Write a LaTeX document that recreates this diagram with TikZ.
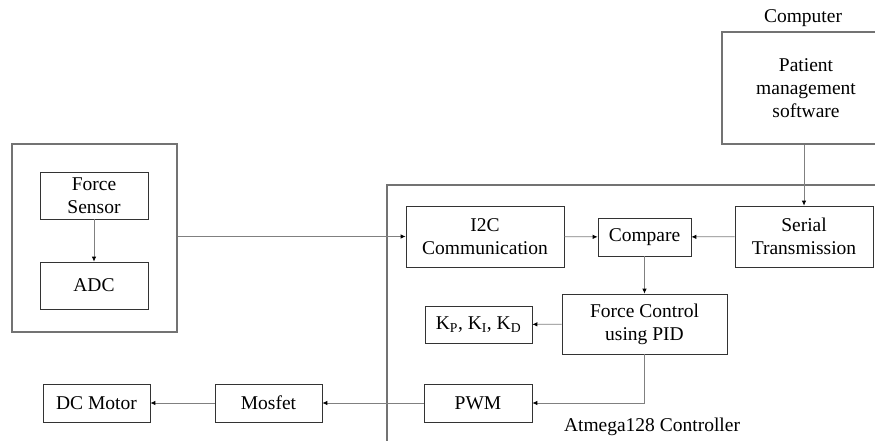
\documentclass[tikz,border=0pt]{standalone}
\usepackage{fontspec}
\setmainfont{Liberation Serif}
\usetikzlibrary{positioning,arrows.meta}

\begin{document}
\begin{tikzpicture}[
     x=1pt, y=-1pt,
     % define styles
     block/.style={
         draw=black!80,
         line width=0.7pt,
         align=center,
         inner sep=0pt,
         font=\fontsize{19.5}{23}\selectfont
     },
     frame/.style={
         draw=black!55,
         line width=1.4pt
     },
     link/.style={
         ->,
         draw=black!50,
         line width=0.8pt
     },
     caption/.style={
         font=\fontsize{19.5}{23}\selectfont
     },
     >={Latex[black,length=5pt,width=4.5pt]}
]
\useasboundingbox (0,0) rectangle (875,441);
\clip (0,0) rectangle (875,441);

% sensor unit
\node[frame, minimum width=165pt, minimum height=188pt] (sensorunit) at (94.5,238) {};
\node[block, minimum width=108pt, minimum height=47pt] (fsensor) at (94,195.5) {Force\\Sensor};
\node[block, minimum width=108pt, minimum height=47pt] (adc) at (94,285.5) {ADC};

% computer
\node[frame, minimum width=168pt, minimum height=112pt, align=center,
      font=\fontsize{19.5}{23}\selectfont] (computer) at (806,88) {Patient\\management\\software};
\node[caption] (computerlabel) at (803,18) {Computer};

% controller
\node[frame, minimum width=520pt, minimum height=290pt] (controller) at (647,330) {};
\node[caption] (controllerlabel) at (652,427) {Atmega128 Controller};

\node[block, minimum width=158pt, minimum height=61pt] (i2c) at (485,236.5) {I2C\\Communication};
\node[block, minimum width=93pt, minimum height=38pt] (compare) at (644.5,237) {Compare};
\node[block, minimum width=138pt, minimum height=61pt] (serial) at (804,236.5) {Serial\\Transmission};
\node[block, minimum width=165pt, minimum height=60pt] (pid) at (644.5,324) {Force Control\\using PID};
\node[block, minimum width=107pt, minimum height=37pt] (gains) at (478.5,324.5)
     {K\textsubscript{P}, K\textsubscript{I}, K\textsubscript{D}};
\node[block, minimum width=108pt, minimum height=38pt] (pwm) at (478,403) {PWM};

% driver
\node[block, minimum width=107pt, minimum height=38pt] (mosfet) at (268.5,403) {Mosfet};
\node[block, minimum width=107pt, minimum height=38pt] (motor) at (96.5,403) {DC Motor};

% connections
\draw[link] (fsensor) -- (adc);
\draw[link] (sensorunit.east |- i2c.west) -- (i2c.west);
\draw[link] (i2c) -- (compare);
\draw[link] (serial) -- (compare);
\draw[link] (serial.north |- computer.south) -- (serial.north);
\draw[link] (compare) -- (pid);
\draw[link] (pid) -- (gains);
\draw[link] (pid.south) |- (pwm.east);
\draw[link] (pwm) -- (mosfet);
\draw[link] (mosfet) -- (motor);

\end{tikzpicture}
\end{document}
